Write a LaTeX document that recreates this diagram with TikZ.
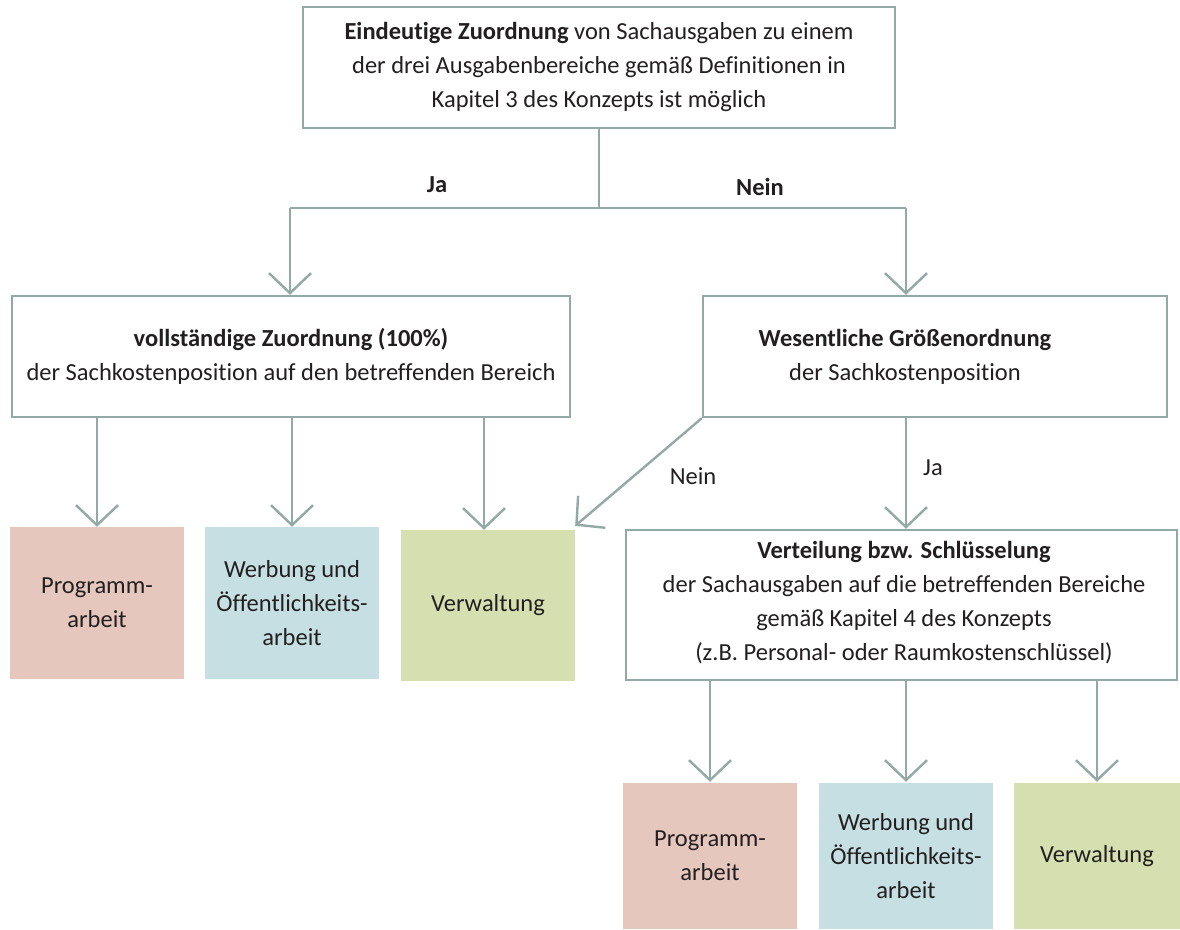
\documentclass[tikz,border=0pt]{standalone}
\usepackage{fontspec}
\setmainfont{Carlito}[Ligatures=NoCommon]
\usetikzlibrary{arrows.meta}
\definecolor{lc}{HTML}{93A9A5}
\definecolor{tc}{HTML}{231F20}
\definecolor{cpink}{HTML}{E6C7BE}
\definecolor{cblue}{HTML}{C5DFE3}
\definecolor{cgreen}{HTML}{D5DFB0}
\tikzset{
  box/.style={draw=lc, line width=2.4pt, fill=white, align=center, inner sep=0pt, text=tc},
  cbox/.style={align=center, inner sep=0pt, text=tc, minimum width=174pt, minimum height=150pt},
  txt/.style={align=center, inner sep=0pt, text=tc},
  ln/.style={draw=lc, line width=2.4pt},
  arr/.style={ln, -{Straight Barb[length=20pt,width=42pt]}},
}
\begin{document}
\begin{tikzpicture}[font=\fontsize{24.5}{34}\selectfont]
\useasboundingbox (0,0) rectangle (1180pt,-929pt);
% top
\node[box, minimum width=592pt, minimum height=121pt] (top) at (599pt,-67.5pt)
  {\textbf{Eindeutige Zuordnung} von Sachausgaben zu einem\\ der drei Ausgabenbereiche gemäß Definitionen in\\ Kapitel 3 des Konzepts ist möglich};
% second level
\node[box, minimum width=558pt, minimum height=121pt] (L) at (291pt,-356.5pt)
  {\textbf{vollständige Zuordnung (100\%)}\\ der Sachkostenposition auf den betreffenden Bereich};
\node[box, minimum width=464pt, minimum height=121pt] (R) at (935pt,-356.5pt) {};
\node[txt] (Rt) at (905pt,-357pt) {\textbf{Wesentliche Größenordnung}\\ der Sachkostenposition};
% left colored boxes
\node[cbox, fill=cpink, minimum height=152pt] (P1) at (97pt,-603pt) {Programm-\\arbeit};
\node[cbox, fill=cblue, minimum height=152pt] (W1) at (292pt,-603pt) {Werbung und\\ Öffentlichkeits-\\arbeit};
\node[cbox, fill=cgreen, minimum height=151pt] (V1) at (488pt,-605.5pt) {Verwaltung};
% Verteilung
\node[box, minimum width=551pt, minimum height=150pt] (V) at (901.5pt,-605pt) {};
\node[txt] (Vt) at (904pt,-603pt) {\textbf{Verteilung bzw. Schlüsselung}\\ der Sachausgaben auf die betreffenden Bereiche\\ gemäß Kapitel 4 des Konzepts\\ (z.B. Personal- oder Raumkostenschlüssel)};
% bottom right colored boxes
\node[cbox, fill=cpink, minimum height=146pt] (P2) at (710pt,-856pt) {Programm-\\arbeit};
\node[cbox, fill=cblue, minimum height=146pt] (W2) at (906pt,-856pt) {Werbung und\\ Öffentlichkeits-\\arbeit};
\node[cbox, fill=cgreen, minimum width=166pt, minimum height=146pt] (V2) at (1097pt,-856pt) {Verwaltung};
% connectors top
\coordinate (j) at (599pt,-208pt);
\coordinate (jl) at (290pt,-208pt);
\coordinate (jr) at (906pt,-208pt);
\draw[ln] (top.south) -- (j);
\draw[ln] (jl) -- (jr);
\draw[arr] (jl) -- (jl |- L.north);
\draw[arr] (jr) -- (jr |- R.north);
\node[txt, font=\fontsize{24.5}{34}\selectfont\bfseries] (ja1) at (437pt,-185pt) {Ja};
\node[txt, font=\fontsize{24.5}{34}\selectfont\bfseries] (nein1) at (760pt,-187pt) {Nein};
% left box to colored boxes
\draw[arr] (L.south -| P1.north) -- (P1.north);
\draw[arr] (L.south -| W1.north) -- (W1.north);
\draw[arr] (L.south -| 484pt,0) -- (484pt,0 |- V1.north);
% right box
\draw[arr] (R.south west) -- ([yshift=4pt]V1.north east);
\node[txt] (nein2) at (693pt,-476pt) {Nein};
\draw[arr] (R.south -| jr) -- (jr |- V.north);
\node[txt] (ja2) at (933pt,-468pt) {Ja};
% Verteilung to bottom
\draw[arr] (V.south -| P2.north) -- ([yshift=1pt]P2.north);
\draw[arr] (V.south -| W2.north) -- ([yshift=1pt]W2.north);
\draw[arr] (V.south -| V2.north) -- ([yshift=1pt]V2.north);
\end{tikzpicture}
\end{document}
